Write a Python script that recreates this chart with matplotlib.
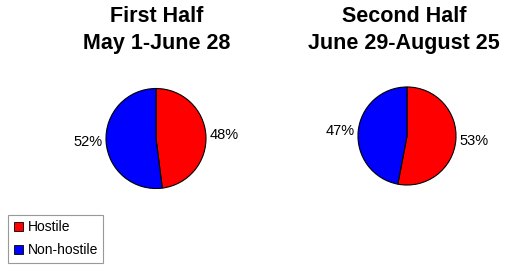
import matplotlib
matplotlib.use("Agg")
import matplotlib.pyplot as plt
from matplotlib.patches import Patch

plt.rcParams["font.family"] = ["Liberation Sans", "DejaVu Sans"]

categories = ["Hostile", "Non-hostile"]
first_half = [48, 52]
second_half = [53, 47]
titles = ["First Half\nMay 1-June 28", "Second Half\nJune 29-August 25"]
colors = ["#ff0000", "#0000ff"]

W, H = 506, 271
fig = plt.figure(figsize=(W / 100, H / 100), dpi=100)


def pie_axes(cx, cy, r):
    # centre and radius in pixels from the top-left corner
    return fig.add_axes([(cx - r) / W, (H - cy - r) / H, 2 * r / W, 2 * r / H])


for (cx, cy, r), vals, title, tx in zip(
        [(156, 138.5, 51), (407, 136, 50)],
        [first_half, second_half], titles, [157, 404]):
    ax = pie_axes(cx, cy, r)
    ax.pie(vals, colors=colors, startangle=90, counterclock=False,
           labels=[f"{v}%" for v in vals], labeldistance=1.07,
           wedgeprops=dict(edgecolor="black", linewidth=0.8),
           textprops=dict(fontsize=10.5))
    ax.set_xlim(-1.02, 1.02)
    ax.set_ylim(-1.02, 1.02)
    ax.set_aspect("equal")
    line1, line2 = title.split("\n")
    fig.text(tx / W, 1 - 16 / H, line1, ha="center", va="center",
             fontsize=15.5, fontweight="bold")
    fig.text(tx / W, 1 - 43 / H, line2, ha="center", va="center",
             fontsize=15.5, fontweight="bold")

handles = [Patch(facecolor=c, edgecolor="black", linewidth=0.6) for c in colors]
leg = fig.legend(handles, categories, loc="lower left",
                 bbox_to_anchor=(8 / W, 8 / H), borderaxespad=0,
                 fontsize=10,
                 handlelength=0.7, handleheight=0.7, handletextpad=0.3,
                 fancybox=False, framealpha=1, borderpad=0.4,
                 labelspacing=0.65)
leg.get_frame().set_edgecolor("#999999")
leg.get_frame().set_linewidth(0.8)

fig.savefig("out.png", dpi=100)
